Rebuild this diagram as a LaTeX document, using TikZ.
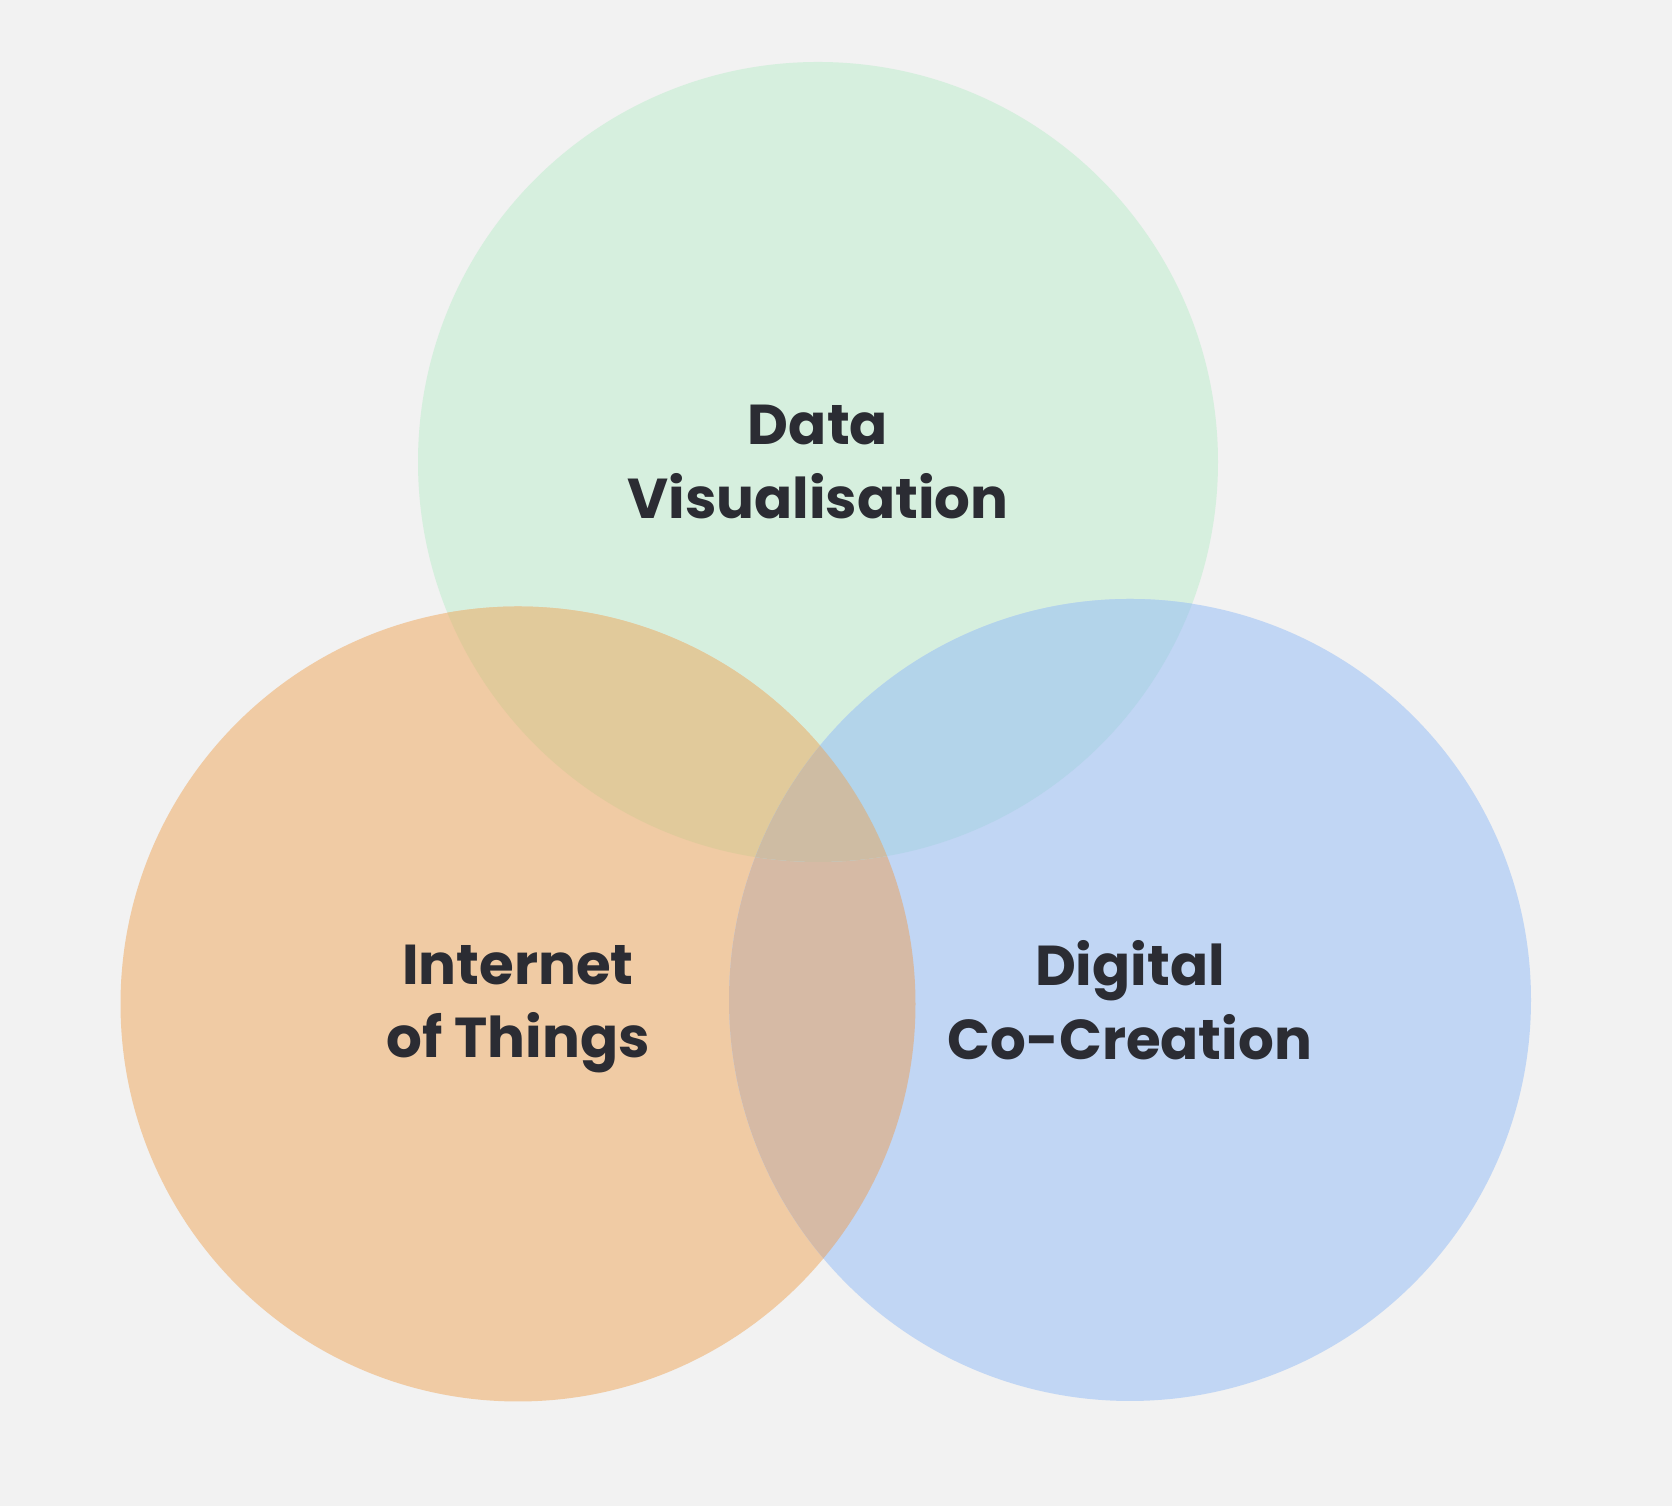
\documentclass[tikz,border=0pt]{standalone}
\usepackage{fontspec}
\setmainfont{Poppins}
\definecolor{pagebg}{HTML}{F2F2F2}
\definecolor{dvgreen}{HTML}{D6EFDE}
\definecolor{iotorange}{HTML}{F0CBA4}
\definecolor{dccblue}{HTML}{C1D6F4}
\definecolor{gomix}{HTML}{E1CA9B}
\definecolor{gbmix}{HTML}{B3D4EA}
\definecolor{obmix}{HTML}{D6BAA5}
\definecolor{allmix}{HTML}{CEBCA3}
\definecolor{labelink}{HTML}{2B2C33}
\begin{document}
\begin{tikzpicture}
% Rótulos
\tikzset{venn label/.style={align=center,inner sep=0pt,text=labelink,font=\fontsize{32}{42}\selectfont\bfseries}}

  \fill[pagebg] (0,0) rectangle (33.44,30.12);
  \useasboundingbox (0,0) rectangle (33.44,30.12);

  \coordinate (dv) at (16.36,20.88);
  \coordinate (iot) at (10.36,10.04);
  \coordinate (dcc) at (22.60,10.12);

% Círculos
\fill[dvgreen] (dv) circle (8);
\fill[iotorange] (iot) circle (7.95);
\fill[dccblue] (dcc) circle (8.02);
\begin{scope}
  \clip (iot) circle (7.95);
  \fill[obmix] (dcc) circle (8.02);
\end{scope}
\begin{scope}
  \clip (dv) circle (8);
  \fill[gomix] (iot) circle (7.95);
  \fill[gbmix] (dcc) circle (8.02);
  \clip (iot) circle (7.95);
  \fill[allmix] (dcc) circle (8.02);
\end{scope}

  \node[venn label] (dvtext) at (dv) {Data\\Visualisation};
  \node[venn label,yshift=-0.1cm] (iottext) at (iot) {Internet\\of Things};
  \node[venn label] (dcctext) at (dcc) {Digital\\Co-Creation};

\end{tikzpicture}
\end{document}
